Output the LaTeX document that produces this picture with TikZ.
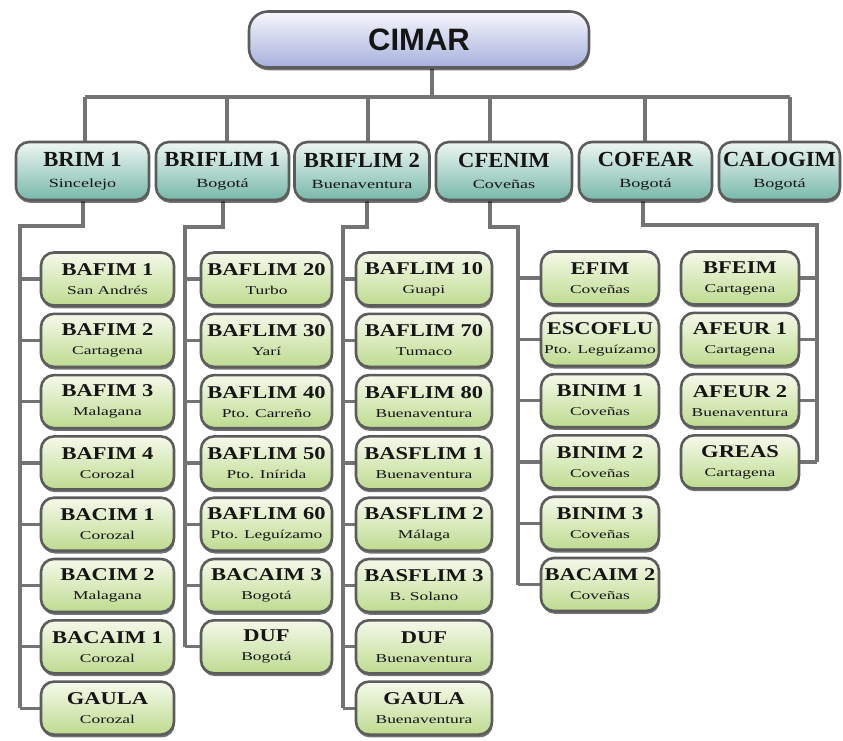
\documentclass[tikz,border=0pt]{standalone}
\usepackage{fontspec}
\usetikzlibrary{shadows,backgrounds}
\newfontfamily\cimarfont{Liberation Sans}
\newfontfamily\namefont{Liberation Serif}[FakeStretch=1.25]
\newfontfamily\topnamefont{Liberation Serif}[FakeStretch=1.05]
\newfontfamily\subfont{Liberation Serif}[FakeStretch=1.45]
\definecolor{bordergray}{HTML}{5C5C5C}
\definecolor{linegray}{HTML}{747474}
\definecolor{txt}{HTML}{151515}
\definecolor{cimartop}{HTML}{F7F7FC}
\definecolor{cimarbot}{HTML}{A6B0DC}
\definecolor{tealtop}{HTML}{EEF6F3}
\definecolor{tealbot}{HTML}{78B8A9}
\definecolor{greentop}{HTML}{F5F9EA}
\definecolor{greenbot}{HTML}{BEDB90}
\newcommand\leaftext[2]{{\namefont\bfseries\fontsize{18}{19}\selectfont #1}\\{\subfont\fontsize{12}{19}\selectfont #2}}
\newcommand\toptext[2]{{\topnamefont\bfseries\fontsize{21.5}{21}\selectfont #1}\\{\subfont\fontsize{12.5}{21}\selectfont #2}}
\tikzset{
  orgbox/.style={rounded corners=13pt, draw=bordergray, line width=2.6pt, align=center,
    inner sep=0pt, text=txt,
    drop shadow={shadow xshift=0.8pt, shadow yshift=-2.8pt, fill=black, opacity=0.55}},
  cimarbox/.style={orgbox, rounded corners=19pt, top color=cimartop, bottom color=cimarbot, minimum width=340pt, minimum height=56pt},
  lvlbox/.style={orgbox, top color=tealtop, bottom color=tealbot, minimum height=58pt,
    font=\fontsize{12}{21}\selectfont},
  leafbox/.style={orgbox, top color=greentop, bottom color=greenbot, minimum height=53pt,
    font=\fontsize{12}{19}\selectfont},
  conn/.style={draw=linegray, line width=3.2pt}
}
\begin{document}
\begin{tikzpicture}[x=1pt,y=-1pt]
\useasboundingbox (0,0) rectangle (843,740);
% root
\node[cimarbox] (cimar) at (419,39.5) {\cimarfont\bfseries\fontsize{31}{32}\selectfont CIMAR};
% second level
\node[lvlbox, minimum width=133pt] (b1) at (82.5,171) {\toptext{BRIM 1}{Sincelejo}};
\node[lvlbox, minimum width=133pt] (b2) at (222.5,171) {\toptext{BRIFLIM 1}{Bogotá}};
\node[lvlbox, minimum width=135pt] (b3) at (362,171) {\toptext{BRIFLIM 2}{Buenaventura}};
\node[lvlbox, minimum width=136pt] (b4) at (504,171) {\toptext{CFENIM}{Coveñas}};
\node[lvlbox, minimum width=133pt] (b5) at (645.5,171) {\toptext{COFEAR}{Bogotá}};
\node[lvlbox, minimum width=121pt] (b6) at (779.5,171) {\toptext{CALOGIM}{Bogotá}};
% bus coordinates
\coordinate (stem) at (432,97);
\coordinate (j1) at (85,97);
\coordinate (j2) at (227,97);
\coordinate (j3) at (368,97);
\coordinate (j4) at (490,97);
\coordinate (j5) at (645,97);
\coordinate (j6) at (790,97);
% elbows
\coordinate (e1) at (83,226);  \coordinate (t1) at (20,226);
\coordinate (e2) at (223,227); \coordinate (t2) at (185,227);
\coordinate (e3) at (367,227); \coordinate (t3) at (343,227);
\coordinate (e4) at (490,227); \coordinate (t4) at (518,227);
\coordinate (e5) at (643,225); \coordinate (t5) at (817,225);
% leaves
\foreach \n/\s [count=\i] in {BAFIM 1/San Andrés, BAFIM 2/Cartagena, BAFIM 3/Malagana, BAFIM 4/Corozal, BACIM 1/Corozal, BACIM 2/Malagana, BACAIM 1/Corozal, GAULA/Corozal}
  \node[leafbox, minimum width=133pt] (a\i) at ({107.5},{279+61.3*(\i-1)}) {\leaftext{\n}{\s}};
\foreach \n/\s [count=\i] in {BAFLIM 20/Turbo, BAFLIM 30/Yarí, BAFLIM 40/Pto. Carreño, BAFLIM 50/Pto. Inírida, BAFLIM 60/Pto. Leguízamo, BACAIM 3/Bogotá, DUF/Bogotá}
  \node[leafbox, minimum width=131pt] (c\i) at ({266.5},{279+61.3*(\i-1)}) {\leaftext{\n}{\s}};
\foreach \n/\s [count=\i] in {BAFLIM 10/Guapi, BAFLIM 70/Tumaco, BAFLIM 80/Buenaventura, BASFLIM 1/Buenaventura, BASFLIM 2/Málaga, BASFLIM 3/B. Solano, DUF/Buenaventura, GAULA/Buenaventura}
  \node[leafbox, minimum width=136pt] (d\i) at ({424},{279+61.3*(\i-1)}) {\leaftext{\n}{\s}};
\foreach \n/\s [count=\i] in {EFIM/Coveñas, ESCOFLU/Pto. Leguízamo, BINIM 1/Coveñas, BINIM 2/Coveñas, BINIM 3/Coveñas, BACAIM 2/Coveñas}
  \node[leafbox, minimum width=118pt] (f\i) at ({600},{278+61.3*(\i-1)}) {\leaftext{\n}{\s}};
\foreach \n/\s [count=\i] in {BFEIM/Cartagena, AFEUR 1/Cartagena, AFEUR 2/Buenaventura, GREAS/Cartagena}
  \node[leafbox, minimum width=118pt] (g\i) at ({740},{278+61.3*(\i-1)}) {\leaftext{\n}{\s}};
% connectors
\begin{scope}[on background layer]
\draw[conn] (cimar.south -| stem) -- (stem);
\draw[conn] (j1) -- (j6);
\foreach \k in {1,...,6} \draw[conn] (j\k) -- (j\k |- b\k.north);
\draw[conn] (e1 |- b1.south) -- (e1) -- (t1) -- (t1 |- a8);
\draw[conn] (e2 |- b2.south) -- (e2) -- (t2) -- (t2 |- c7);
\draw[conn] (e3 |- b3.south) -- (e3) -- (t3) -- (t3 |- d8);
\draw[conn] (e4 |- b4.south) -- (e4) -- (t4) -- (t4 |- f6);
\draw[conn] (e5 |- b5.south) -- (e5) -- (t5) -- (t5 |- g4);
\foreach \i in {1,...,8} \draw[conn] (t1 |- a\i) -- (a\i.west);
\foreach \i in {1,...,7} \draw[conn] (t2 |- c\i) -- (c\i.west);
\foreach \i in {1,...,8} \draw[conn] (t3 |- d\i) -- (d\i.west);
\foreach \i in {1,...,6} \draw[conn] (t4 |- f\i) -- (f\i.west);
\foreach \i in {1,...,4} \draw[conn] (t5 |- g\i) -- (g\i.east);
\end{scope}
\end{tikzpicture}
\end{document}
